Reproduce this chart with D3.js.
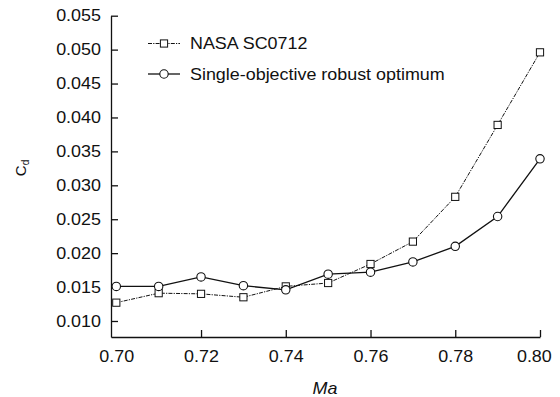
<!DOCTYPE html>
<html>
<head>
<meta charset="utf-8">
<script src="https://cdn.jsdelivr.net/npm/d3@7"></script>
<style>
    body { margin: 0; background: #fff; }
    #chart { width: 560px; height: 397px; }
    text { font-family: "Liberation Sans", Arial, sans-serif; fill: #111; }
</style>
</head>
<body>
<div id="chart"></div>
<script>

// Mach numbers
let machNumbers = [0.70, 0.71, 0.72, 0.73, 0.74, 0.75, 0.76, 0.77, 0.78, 0.79, 0.80];

// drag coefficient, NASA SC0712 baseline
let nasaCd = [0.0127, 0.0141, 0.0140, 0.0135, 0.0151, 0.0156, 0.0184, 0.0217, 0.0283, 0.0389, 0.0496];

// drag coefficient, single-objective robust optimum
let robustCd = [0.0151, 0.0151, 0.0165, 0.0152, 0.0146, 0.0169, 0.0172, 0.0187, 0.0210, 0.0254, 0.0339];

let xTicks = [0.70, 0.72, 0.74, 0.76, 0.78, 0.80];
let yTicks = [0.010, 0.015, 0.020, 0.025, 0.030, 0.035, 0.040, 0.045, 0.050, 0.055];

let seriesNames = ["NASA SC0712", "Single-objective robust optimum"];


class CdChart {

    constructor(parentElement) {
        this.parentElement = parentElement;
        this.initVis();
    }

    initVis() {
        let vis = this;

        vis.svg = d3.select("#" + vis.parentElement).append("svg")
            .attr("width", 560)
            .attr("height", 397);

        // text in the original is a bit wider than Arial
        vis.stretch = "scale(1.12,1)";

        vis.x = d3.scaleLinear()
            .domain([0.69875, 0.80])
            .range([111, 540]);

        vis.y = d3.scaleLinear()
            .domain([0.00764, 0.055])
            .range([337, 15.7]);

        vis.series = [
            {name: seriesNames[0], values: nasaCd, marker: "square", dash: "4,1.2,1.2,1.2", width: 1},
            {name: seriesNames[1], values: robustCd, marker: "circle", dash: null, width: 1.3}
        ];

        vis.drawAxes();
        vis.drawSeries();
        vis.drawLegend();
    }

    drawAxes() {
        let vis = this;

        let xAxis = d3.axisBottom(vis.x)
            .tickValues(xTicks)
            .tickFormat(d3.format(".2f"))
            .tickSizeInner(-7)
            .tickSizeOuter(0)
            .tickPadding(13.5);

        let yAxis = d3.axisLeft(vis.y)
            .tickValues(yTicks)
            .tickFormat(d3.format(".3f"))
            .tickSizeInner(-7)
            .tickSizeOuter(0)
            .tickPadding(9);

        let gx = vis.svg.append("g")
            .attr("class", "x-axis axis")
            .attr("transform", "translate(0,337)")
            .call(xAxis);

        let gy = vis.svg.append("g")
            .attr("class", "y-axis axis")
            .attr("transform", "translate(111,0)")
            .call(yAxis);

        [gx, gy].forEach(g => {
            g.select(".domain").attr("stroke", "#111").attr("stroke-width", 1.3);
            g.selectAll(".tick line").attr("stroke", "#111").attr("stroke-width", 1.3);
            g.selectAll(".tick text")
                .attr("font-size", 16)
                .attr("fill", "#111")
                .attr("transform", vis.stretch);
        });

        // first x tick sits against the y axis and is not drawn
        gx.selectAll(".tick").filter(d => d === 0.70).select("line").remove();
        // last label is pulled in a little so it stays inside the frame
        gx.selectAll(".tick").filter(d => d === 0.80).select("text").attr("x", -5.5);

        // axis titles
        vis.svg.append("g")
            .attr("transform", "translate(325,394)")
            .append("text")
            .attr("text-anchor", "middle")
            .attr("font-size", 16)
            .attr("font-style", "italic")
            .attr("transform", vis.stretch)
            .text("Ma");

        let yTitle = vis.svg.append("text")
            .attr("transform", "translate(26,168) rotate(-90)")
            .attr("text-anchor", "middle")
            .attr("font-size", 15);
        yTitle.append("tspan").text("C");
        yTitle.append("tspan")
            .attr("font-size", 10)
            .attr("dy", 3)
            .text("d");
    }

    drawMarker(g, type, cx, cy) {
        if (type === "square") {
            g.append("rect")
                .attr("x", cx - 3.6)
                .attr("y", cy - 3.6)
                .attr("width", 7.2)
                .attr("height", 7.2)
                .attr("fill", "#fff")
                .attr("stroke", "#111")
                .attr("stroke-width", 1);
        } else {
            g.append("circle")
                .attr("cx", cx)
                .attr("cy", cy)
                .attr("r", 4.2)
                .attr("fill", "#fff")
                .attr("stroke", "#111")
                .attr("stroke-width", 1.1);
        }
    }

    drawSeries() {
        let vis = this;

        vis.series.forEach(s => {
            let pts = machNumbers.map((m, i) => ({ma: m, cd: s.values[i]}));

            let g = vis.svg.append("g").attr("class", "series");

            g.append("path")
                .datum(pts)
                .attr("fill", "none")
                .attr("stroke", "#111")
                .attr("stroke-width", s.width)
                .attr("stroke-dasharray", s.dash)
                .attr("d", d3.line()
                    .x(d => vis.x(d.ma))
                    .y(d => vis.y(d.cd)));

            pts.forEach(d => vis.drawMarker(g, s.marker, vis.x(d.ma), vis.y(d.cd)));
        });
    }

    drawLegend() {
        let vis = this;
        let rows = [43.5, 74];

        vis.series.forEach((s, i) => {
            let g = vis.svg.append("g")
                .attr("class", "legend")
                .attr("transform", `translate(0,${rows[i]})`);

            g.append("line")
                .attr("x1", 148)
                .attr("x2", 180)
                .attr("stroke", "#111")
                .attr("stroke-width", s.width)
                .attr("stroke-dasharray", s.dash);

            vis.drawMarker(g, s.marker, 164, 0);

            g.append("g")
                .attr("transform", "translate(190,0)")
                .append("text")
                .attr("dy", "0.36em")
                .attr("font-size", 16)
                .attr("transform", vis.stretch)
                .text(s.name);
        });
    }
}

new CdChart("chart");
</script>
</body>
</html>
